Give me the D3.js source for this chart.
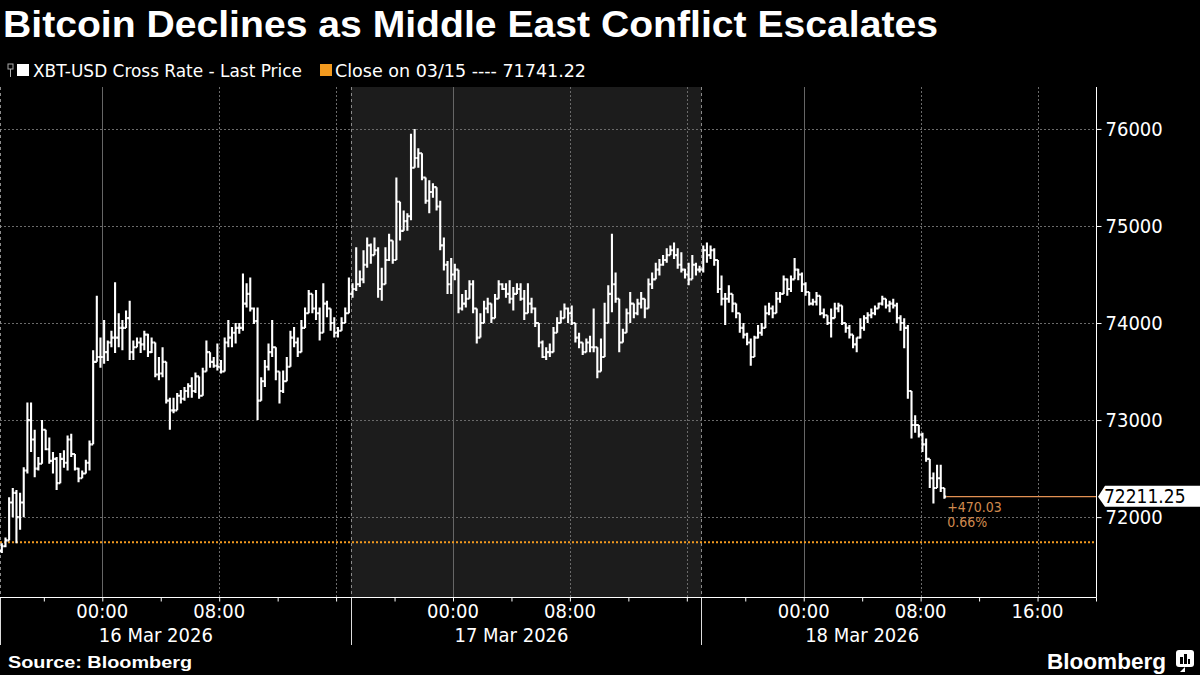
<!DOCTYPE html>
<html><head><meta charset="utf-8">
<script src="https://cdn.jsdelivr.net/npm/d3@7"></script>
<style>
body{margin:0;background:#000;}
svg{display:block;}
.cond{font-family:"DejaVu Sans Condensed","DejaVu Sans",sans-serif;font-stretch:condensed;}
</style>
</head><body><svg id="c" width="1200" height="675"></svg>
<script>
// ---------------- DATA ----------------
const seriesStart = "2026-03-15T17:00:00Z";   // first 15-minute bar
const barMinutes = 15;
const opens = [71650,71700,71760,72150,72250,72000,72150,72480,73000,72800,
72500,72550,72900,72700,72580,72600,72350,72600,72560,72800,
72650,72500,72400,72450,72560,72750,73600,73650,73650,73700,
73800,73850,73850,73950,73950,74050,73700,73750,73800,73780,
73880,73700,73800,73470,73480,73600,73200,73100,73100,73250,
73220,73300,73350,73300,73450,73250,73500,73700,73600,73560,
73550,73500,73800,73850,73900,73950,73950,74200,74300,74150,
74020,73200,73400,73550,73700,73750,73500,73300,73400,73550,
73850,73800,73700,73950,74100,74300,74150,74100,73900,74200,
74150,74000,73900,73920,74000,74100,74300,74350,74400,74450,
74600,74800,74700,74750,74350,74400,74650,74850,74650,75250,
74950,75050,75100,75600,75700,75750,75500,75260,75350,75400,
75200,74800,74600,74400,74500,74550,74150,74200,74250,74400,
74150,73850,74000,74150,74200,74050,74250,74400,74350,74300,
74250,74300,74350,74250,74100,74200,74150,74000,73800,73650,
73700,73700,73900,74000,74050,74150,74100,74000,73850,73800,
73700,73800,73750,73750,73500,73650,74000,74300,74400,74250,
73800,73900,74100,74200,74100,74200,74250,74150,74400,74450,
74550,74600,74650,74700,74750,74700,74600,74550,74500,74450,
74600,74550,74550,74750,74700,74750,74650,74350,74250,74250,
74300,74200,74100,73950,73880,73800,73650,73850,73900,73950,
74100,74150,74100,74250,74300,74450,74350,74450,74550,74500,
74400,74320,74200,74220,74280,74100,74080,74000,74050,74150,
74180,74000,73950,73880,73780,73850,73950,74050,74080,74100,
74150,74200,74250,74180,74200,74180,74050,74000,73950,73300,
72950,72950,72850,72750,72600,72400,72300,72400,72300];
const highs = [71730,71790,72205,72300,72280,72250,72515,73180,73180,72900,
72620,73000,72900,72820,72670,72620,72660,72690,72840,72860,
72640,72510,72480,72590,72790,73720,74280,73850,74030,73820,
73920,74420,74100,74030,74130,74230,73820,73850,73850,73920,
73890,73850,73690,73650,73750,73380,73230,73230,73280,73310,
73340,73380,73440,73490,73380,73540,73820,73690,73650,73790,
73620,73850,74030,73960,74000,74000,74510,74410,74470,74160,
74160,73440,73620,73790,74030,73690,73480,73510,73650,73920,
73960,73850,74030,74160,74340,74260,74340,74160,74410,74230,
74130,74060,73960,74060,74160,74470,74410,74780,74540,74750,
74880,74820,74880,74780,74570,74780,74920,74750,75500,75230,
75160,75130,75950,76000,75800,75750,75500,75470,75440,75330,
75260,74880,74640,74670,74610,74510,74300,74340,74440,74440,
74130,74100,74230,74260,74160,74300,74440,74410,74410,74440,
74370,74410,74410,74340,74410,74260,74160,74000,73820,73750,
73790,73960,74060,74130,74200,74160,74180,73980,73900,73800,
73840,73870,74150,73720,73840,74210,74390,74920,74520,74180,
73940,74150,74320,74180,74250,74320,74250,74460,74520,74620,
74660,74700,74770,74800,74830,74770,74730,74560,74620,74700,
74620,74590,74800,74830,74800,74770,74620,74490,74310,74390,
74280,74150,74080,74000,73900,73840,73870,73980,74000,74180,
74210,74180,74320,74320,74490,74460,74490,74670,74560,74520,
74420,74320,74250,74320,74250,74150,74080,74150,74210,74210,
74110,74000,73980,73870,73840,74050,74080,74110,74150,74180,
74210,74280,74250,74230,74250,74210,74080,74050,73980,73260,
73050,72950,72870,72810,72540,72460,72540,72540,72300];
const lows = [71630,71690,71790,72000,71730,71870,72000,72450,72670,72410,
72480,72620,72690,72550,72450,72280,72350,72510,72480,72620,
72480,72360,72410,72450,72480,72760,73650,73540,73580,73610,
73750,73690,73750,73720,73960,73620,73620,73750,73690,73720,
73650,73690,73440,73410,73440,73170,72900,73070,73130,73170,
73200,73230,73230,73280,73220,73300,73540,73540,73540,73510,
73480,73580,73750,73750,73790,73890,73920,74160,74120,73990,
73000,73300,73340,73510,73650,73410,73170,73280,73440,73620,
73750,73650,73790,74060,74130,74100,74030,73820,73920,74060,
73920,73850,73850,73920,74060,74200,74260,74330,74370,74410,
74570,74610,74720,74260,74230,74610,74640,74610,74650,74850,
74950,74950,75060,75640,75600,75470,75230,75130,75290,75160,
74750,74540,74300,74300,74440,74100,74130,74160,74260,74100,
73790,73890,74060,74100,74000,74160,74260,74340,74260,74200,
74130,74300,74230,74030,74130,74100,73960,73750,73640,73620,
73650,73750,73920,74000,74060,74000,73980,73800,73740,73670,
73700,73700,73700,73430,73560,73700,74110,74110,74210,73700,
73840,73900,74000,74050,74080,74150,74050,74250,74350,74460,
74490,74590,74620,74700,74660,74560,74520,74460,74390,74490,
74490,74520,74520,74620,74660,74590,74310,74180,73980,74210,
74110,74050,73900,73840,73770,73560,73700,73840,73870,74000,
74080,74050,74150,74210,74320,74280,74320,74460,74440,74320,
74280,74180,74180,74180,74080,74050,73980,73850,74080,74110,
73980,73900,73840,73740,73700,73840,73920,74000,74050,74080,
74150,74180,74150,74110,74150,74000,73920,73740,73220,72810,
72870,72820,72670,72570,72300,72140,72330,72260,72190];
const closes = [71700,71760,72150,72250,72000,72150,72480,73000,72800,72500,
72550,72900,72700,72580,72600,72350,72600,72560,72800,72650,
72500,72400,72450,72560,72750,73600,73650,73650,73700,73800,
73850,73850,73950,73950,74050,73700,73750,73800,73780,73880,
73700,73800,73470,73480,73600,73200,73100,73100,73250,73220,
73300,73350,73300,73450,73250,73500,73700,73600,73560,73550,
73500,73800,73850,73900,73950,73950,74200,74300,74150,74020,
73200,73400,73550,73700,73750,73500,73300,73400,73550,73850,
73800,73700,73950,74100,74300,74150,74100,73900,74200,74150,
74000,73900,73920,74000,74100,74300,74350,74400,74450,74600,
74800,74700,74750,74350,74400,74650,74850,74650,75250,74950,
75050,75100,75600,75700,75750,75500,75260,75350,75400,75200,
74800,74600,74400,74500,74550,74150,74200,74250,74400,74150,
73850,74000,74150,74200,74050,74250,74400,74350,74300,74250,
74300,74350,74250,74100,74200,74150,74000,73800,73650,73700,
73700,73900,74000,74050,74150,74100,74000,73850,73800,73700,
73800,73750,73750,73500,73650,74000,74300,74400,74250,73800,
73900,74100,74200,74100,74200,74250,74150,74400,74450,74550,
74600,74650,74700,74750,74700,74600,74550,74500,74450,74600,
74550,74550,74750,74700,74750,74650,74350,74250,74250,74300,
74200,74100,73950,73880,73800,73650,73850,73900,73950,74100,
74150,74100,74250,74300,74450,74350,74450,74550,74500,74400,
74320,74200,74220,74280,74100,74080,74000,74050,74150,74180,
74000,73950,73880,73780,73850,73950,74050,74080,74100,74150,
74200,74250,74180,74200,74180,74050,74000,73950,73300,72950,
72950,72850,72750,72600,72400,72300,72400,72300,72211.25];

const refClose = 71741.22;
const lastPrice = 72211.25;
const changeText = "+470.03";
const changePctText = "0.66%";
const yTicks = [72000, 73000, 74000, 75000, 76000];
const xDomain = ["2026-03-15T17:00:00Z", "2026-03-18T20:00:00Z"];
const yDomain = [71177, 76432];
const gridTimes = ["2026-03-16T00:00:00Z","2026-03-16T08:00:00Z","2026-03-16T16:00:00Z",
  "2026-03-17T00:00:00Z","2026-03-17T08:00:00Z","2026-03-17T16:00:00Z",
  "2026-03-18T00:00:00Z","2026-03-18T08:00:00Z","2026-03-18T16:00:00Z"];
const labelTimes = ["2026-03-16T00:00:00Z","2026-03-16T08:00:00Z",
  "2026-03-17T00:00:00Z","2026-03-17T08:00:00Z",
  "2026-03-18T00:00:00Z","2026-03-18T08:00:00Z","2026-03-18T16:00:00Z"];
const sessionBounds = ["2026-03-15T17:00:00Z","2026-03-16T17:00:00Z","2026-03-17T17:00:00Z"];
const shadedSession = ["2026-03-16T17:00:00Z","2026-03-17T17:00:00Z"];
const dayLabels = ["16 Mar 2026", "17 Mar 2026", "18 Mar 2026"];
const dayLabelTimes = ["2026-03-16T03:40:00Z","2026-03-17T04:00:00Z","2026-03-18T04:00:00Z"];
const titleText = "Bitcoin Declines as Middle East Conflict Escalates";
const legendSeries = "XBT-USD Cross Rate - Last Price";
const legendRef = "Close on 03/15 ---- 71741.22";
const sourceText = "Source: Bloomberg";

// ---------------- CHART ----------------
const svg = d3.select("#c");
const W = 1200, H = 675;
const P = {left: 0, right: 1096, top: 87, bottom: 597};
const ORANGE = "#f39a1f";
const parse = d3.isoParse;
const x = d3.scaleUtc().domain(xDomain.map(parse)).range([P.left, P.right]);
const y = d3.scaleLinear().domain(yDomain).range([P.bottom, P.top]);

svg.append("rect").attr("width", W).attr("height", H).attr("fill", "#000");

// title
svg.append("text").attr("x", 3).attr("y", 37).text(titleText)
  .attr("fill", "#fff").attr("font-family", "Liberation Sans, Arial, sans-serif")
  .attr("font-weight", "bold").attr("font-size", 36)
  .attr("textLength", 935).attr("lengthAdjust", "spacingAndGlyphs");

// legend
const lg = svg.append("g");
lg.append("rect").attr("x", 8).attr("y", 64).attr("width", 5).attr("height", 5)
  .attr("fill", "none").attr("stroke", "#aaa").attr("stroke-width", 1);
lg.append("line").attr("x1", 10.5).attr("x2", 10.5).attr("y1", 69).attr("y2", 77).attr("stroke", "#aaa");
lg.append("rect").attr("x", 17).attr("y", 64).attr("width", 12).attr("height", 12).attr("fill", "#fff");
lg.append("text").attr("class", "cond").attr("x", 33).attr("y", 77).text(legendSeries)
  .attr("fill", "#fff").attr("font-size", 18).attr("textLength", 269).attr("lengthAdjust", "spacingAndGlyphs");
lg.append("rect").attr("x", 320).attr("y", 64).attr("width", 12).attr("height", 12).attr("fill", ORANGE);
lg.append("text").attr("class", "cond").attr("x", 335).attr("y", 77).text(legendRef)
  .attr("fill", "#fff").attr("font-size", 18).attr("textLength", 251).attr("lengthAdjust", "spacingAndGlyphs");

// shaded session
svg.append("rect")
  .attr("x", x(parse(shadedSession[0]))).attr("y", P.top)
  .attr("width", x(parse(shadedSession[1])) - x(parse(shadedSession[0])))
  .attr("height", P.bottom - P.top).attr("fill", "#1c1c1c");

// horizontal gridlines
svg.append("g").selectAll("line").data(yTicks).join("line")
  .attr("x1", P.left).attr("x2", P.right)
  .attr("y1", d => Math.round(y(d)) + 0.5).attr("y2", d => Math.round(y(d)) + 0.5)
  .attr("stroke", "#6a6a6a").attr("stroke-width", 1).attr("stroke-dasharray", "2,2");

// vertical gridlines
svg.append("g").selectAll("line").data(gridTimes).join("line")
  .attr("x1", d => Math.round(x(parse(d))) + 0.5).attr("x2", d => Math.round(x(parse(d))) + 0.5)
  .attr("y1", P.top).attr("y2", P.bottom)
  .attr("stroke", d => parse(d).getUTCHours() === 0 ? "#666" : "#6a6a6a")
  .attr("stroke-dasharray", d => parse(d).getUTCHours() === 0 ? null : "2,2");

// session boundaries (dashed in plot, solid below axis)
svg.append("g").selectAll("line").data(sessionBounds).join("line")
  .attr("x1", d => Math.round(x(parse(d))) + 0.5).attr("x2", d => Math.round(x(parse(d))) + 0.5)
  .attr("y1", P.top).attr("y2", P.bottom)
  .attr("stroke", "#8a8a8a").attr("stroke-dasharray", "3,3");
svg.append("g").selectAll("line").data(sessionBounds).join("line")
  .attr("x1", d => Math.round(x(parse(d))) + 0.5).attr("x2", d => Math.round(x(parse(d))) + 0.5)
  .attr("y1", P.bottom).attr("y2", 645)
  .attr("stroke", "#ddd");

// reference close dotted line
svg.append("line").attr("x1", P.left).attr("x2", P.right)
  .attr("y1", y(refClose)).attr("y2", y(refClose))
  .attr("stroke", ORANGE).attr("stroke-width", 2).attr("stroke-dasharray", "2,2");

// OHLC bars
const step = barMinutes * 60 * 1000;
const t0 = parse(seriesStart).getTime();
const bars = closes.map((c, i) => ({
  t: new Date(t0 + i * step + step / 2), o: opens[i], h: highs[i], l: lows[i], c: c
}));
const tick = 1.8;
svg.append("g").selectAll("path").data(bars).join("path")
  .attr("d", d => {
    const cx = x(d.t);
    const hi = y(Math.max(d.h, d.o, d.c)), lo = y(Math.min(d.l, d.o, d.c));
    return `M${cx},${hi}V${lo}M${cx - tick},${y(d.o)}H${cx}M${cx},${y(d.c)}H${cx + tick}`;
  })
  .attr("fill", "none").attr("stroke", "#fff").attr("stroke-width", 2.1);

// last price line
const lastX = x(bars[bars.length - 1].t) + tick;
svg.append("line").attr("x1", lastX).attr("x2", P.right)
  .attr("y1", y(lastPrice)).attr("y2", y(lastPrice))
  .attr("stroke", "#e39153").attr("stroke-width", 1.2);
svg.append("text").attr("class", "cond").attr("x", lastX + 1).attr("y", y(lastPrice) + 15)
  .text(changeText).attr("fill", "#d08a4e").attr("font-size", 14);
svg.append("text").attr("class", "cond").attr("x", lastX + 1).attr("y", y(lastPrice) + 30)
  .text(changePctText).attr("fill", "#d08a4e").attr("font-size", 14);

// axes lines
svg.append("line").attr("x1", P.left).attr("x2", P.right + 0.5)
  .attr("y1", P.bottom + 0.5).attr("y2", P.bottom + 0.5).attr("stroke", "#fff");
svg.append("line").attr("x1", P.right + 0.5).attr("x2", P.right + 0.5)
  .attr("y1", P.top).attr("y2", P.bottom + 0.5).attr("stroke", "#fff");

// y axis
const yAxis = d3.axisRight(y).tickValues(yTicks).tickSize(5).tickPadding(4).tickFormat(d3.format("d"));
const yg = svg.append("g").attr("transform", `translate(${P.right + 0.5},0)`).call(yAxis);
yg.select(".domain").remove();
yg.selectAll(".tick line").attr("stroke", "#fff");
yg.selectAll(".tick text").attr("class", "cond").attr("fill", "#fff").attr("font-size", 20);

// last price label box
const ly = y(lastPrice);
svg.append("path")
  .attr("d", `M${P.right + 2},${ly}L${P.right + 9},${ly - 11}H${W}V${ly + 10}H${P.right + 9}Z`)
  .attr("fill", "#fff");
svg.append("text").attr("class", "cond").attr("x", P.right + 8).attr("y", ly + 6.5)
  .text(d3.format(".2f")(lastPrice)).attr("fill", "#000").attr("font-size", 19);

// x axis ticks every 4 hours
const xAxis = d3.axisBottom(x).ticks(d3.utcHour.every(4)).tickSize(4).tickFormat("");
const xg = svg.append("g").attr("transform", `translate(0,${P.bottom + 0.5})`).call(xAxis);
xg.select(".domain").remove();
xg.selectAll(".tick line").attr("stroke", "#fff");

// time labels
svg.append("g").selectAll("text").data(labelTimes).join("text")
  .attr("class", "cond")
  .attr("x", d => x(parse(d))).attr("y", 618).attr("text-anchor", "middle")
  .text(d => d3.utcFormat("%H:%M")(parse(d))).attr("fill", "#fff").attr("font-size", 20);
svg.append("g").selectAll("text").data(dayLabels).join("text")
  .attr("class", "cond")
  .attr("x", (d, i) => x(parse(dayLabelTimes[i]))).attr("y", 642).attr("text-anchor", "middle")
  .text(d => d).attr("fill", "#fff").attr("font-size", 20);

// footer
svg.append("text").attr("x", 8).attr("y", 668).text(sourceText)
  .attr("fill", "#fff").attr("font-family", "Liberation Sans, Arial, sans-serif")
  .attr("font-weight", "bold").attr("font-size", 16)
  .attr("textLength", 184).attr("lengthAdjust", "spacingAndGlyphs");
svg.append("text").attr("x", 1047).attr("y", 669).text("Bloomberg")
  .attr("fill", "#fff").attr("font-family", "Liberation Sans, Arial, sans-serif")
  .attr("font-weight", "bold").attr("font-size", 22)
  .attr("textLength", 119).attr("lengthAdjust", "spacingAndGlyphs");
const logo = svg.append("g").attr("transform", "translate(1176,650)");
logo.append("rect").attr("width", 18).attr("height", 17).attr("rx", 3).attr("fill", "#fff");
logo.append("path").attr("d", "M4,22 L9,17 L9,22 Z").attr("fill", "#fff");
[[4,7,3],[8,4,3],[12,9,2]].forEach(([bx, by, bw]) => {
  logo.append("rect").attr("x", bx).attr("y", by).attr("width", bw).attr("height", 14 - by).attr("fill", "#000");
});
</script>
</body></html>
